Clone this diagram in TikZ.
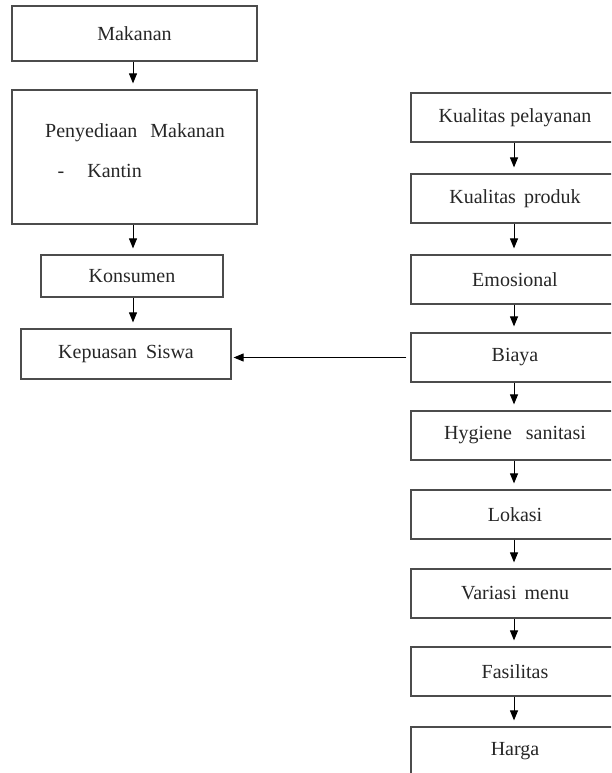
\documentclass[tikz,border=0pt]{standalone}
\usepackage{fontspec}
\setmainfont{Liberation Serif}
\usetikzlibrary{arrows.meta}
\begin{document}
\begin{tikzpicture}[x=1pt,y=-1pt,
  box/.style={draw=black!70,line width=1.2pt,rectangle,inner sep=0pt,
    font=\fontsize{20}{24}\selectfont,text=black!85},
  rbox/.style={box,minimum width=208pt,minimum height=49pt},
  txt/.style={inner sep=0pt,font=\fontsize{20}{24}\selectfont,text=black!85},
  arr/.style={draw=black,line width=1pt,-{Triangle[width=8pt,length=10pt]},shorten >=6pt}]
\useasboundingbox (0,0) rectangle (611,773);
\clip (0,0) rectangle (611,773);
% left column
\node[box,minimum width=245pt,minimum height=55pt] (mak) at (134.5,33.5) {Makanan};
\node[box,minimum width=245pt,minimum height=134pt] (pen) at (134.5,157) {};
\node[txt,anchor=base] (pentitle) at (135,138) {Penyediaan\hspace{8pt} Makanan};
\node[txt,anchor=base west] (penitem) at (57.5,177) {-\hspace{23pt}Kantin};
\node[box,minimum width=182pt,minimum height=42pt] (kon) at (132,276) {Konsumen};
\node[box,minimum width=210pt,minimum height=50pt] (kep) at (126,354) {Kepuasan\hspace{4pt} Siswa};
% right column
\node[rbox] (r1) at (515,117.5) {Kualitas pelayanan};
\node[rbox] (r2) at (515,198.5) {Kualitas\hspace{3pt} produk};
\node[rbox] (r3) at (515,279.5) {Emosional};
\node[rbox] (r4) at (515,357.5) {Biaya};
\node[rbox] (r5) at (515,435.5) {Hygiene\hspace{9pt} sanitasi};
\node[rbox] (r6) at (515,514.5) {Lokasi};
\node[rbox] (r7) at (515,593.5) {Variasi\hspace{3pt} menu};
\node[rbox] (r8) at (515,671.5) {Fasilitas};
\node[rbox] (r9) at (515,751.5) {Harga};
% left arrows
\coordinate (lx) at (133,0);
\draw[arr] (lx |- mak.south) -- (lx |- pen.north);
\draw[arr] (lx |- pen.south) -- (lx |- kon.north);
\draw[arr] (lx |- kon.south) -- (lx |- kep.north);
% right arrows
\coordinate (rx) at (514,0);
\foreach \a/\b in {r1/r2,r2/r3,r3/r4,r4/r5,r5/r6,r6/r7,r7/r8,r8/r9}
  \draw[arr] (rx |- \a.south) -- (rx |- \b.north);
% horizontal arrow
\draw[arr,shorten <=4pt,shorten >=2pt] (r4.west) -- (r4.west -| kep.east);
\end{tikzpicture}
\end{document}
